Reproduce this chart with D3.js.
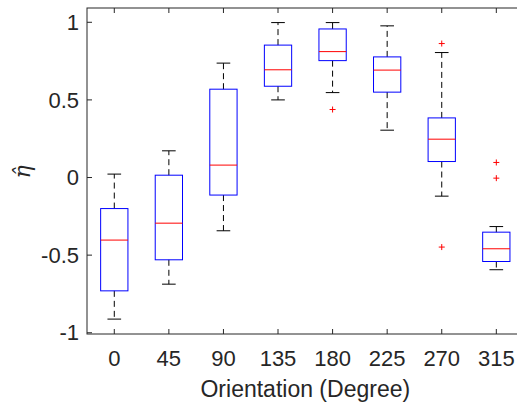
<!DOCTYPE html>
<html><head><meta charset="utf-8">
<script src="https://cdn.jsdelivr.net/npm/d3@7"></script>
<style>body{margin:0;background:#fff}svg{display:block}text{font-family:"Liberation Sans",Arial,sans-serif;fill:#262626}</style>
</head><body><svg id="c" width="517" height="404"></svg>
<script>
const categories = ["0","45","90","135","180","225","270","315"];
const whiskerHigh = [0.022, 0.172, 0.737, 0.998, 0.998, 0.977, 0.805, -0.316];
const q3          = [-0.200, 0.015, 0.569, 0.853, 0.957, 0.777, 0.384, -0.352];
const medians     = [-0.403, -0.294, 0.080, 0.694, 0.811, 0.692, 0.247, -0.459];
const q1          = [-0.730, -0.530, -0.113, 0.588, 0.753, 0.550, 0.103, -0.541];
const whiskerLow  = [-0.912, -0.687, -0.343, 0.500, 0.547, 0.305, -0.120, -0.594];
const outliers    = [[], [], [], [], [0.438], [], [0.863, -0.448], [0.097, -0.004]];
const yTicks = [-1, -0.5, 0, 0.5, 1];
const yTickLabels = ["-1", "-0.5", "0", "0.5", "1"];

const svg = d3.select("#c");
const L = 87, R = 523.6, T = 8, B = 334;
const x = d3.scaleLinear().domain([0.5, categories.length + 0.5]).range([L, R]);
const y = d3.scaleLinear().domain([-1.008, 1.092]).range([B, T]);
const hw = (x(1.25) - x(1));     // box half width
const cw = (x(1.125) - x(1));    // cap half width

const g = svg.append("g");
categories.forEach((c, i) => {
  const cx = x(i + 1);
  // whiskers
  g.append("line").attr("x1", cx).attr("x2", cx).attr("y1", y(q3[i])).attr("y2", y(whiskerHigh[i]))
    .attr("stroke", "#000").attr("stroke-width", 1).attr("stroke-dasharray", "6,4");
  g.append("line").attr("x1", cx).attr("x2", cx).attr("y1", y(q1[i])).attr("y2", y(whiskerLow[i]))
    .attr("stroke", "#000").attr("stroke-width", 1).attr("stroke-dasharray", "6,4");
  [whiskerHigh[i], whiskerLow[i]].forEach(v => {
    g.append("line").attr("x1", cx - cw).attr("x2", cx + cw).attr("y1", y(v)).attr("y2", y(v))
      .attr("stroke", "#000").attr("stroke-width", 1);
  });
  // box
  g.append("rect").attr("x", cx - hw).attr("width", 2 * hw)
    .attr("y", y(q3[i])).attr("height", y(q1[i]) - y(q3[i]))
    .attr("fill", "none").attr("stroke", "#0000ff").attr("stroke-width", 1);
  // median
  g.append("line").attr("x1", cx - hw).attr("x2", cx + hw).attr("y1", y(medians[i])).attr("y2", y(medians[i]))
    .attr("stroke", "#ff0000").attr("stroke-width", 1);
  // outliers
  outliers[i].forEach(v => {
    const py = y(v), s = 3;
    g.append("path").attr("d", `M${cx - s},${py}H${cx + s}M${cx},${py - s}V${py + s}`)
      .attr("stroke", "#ff0000").attr("stroke-width", 1).attr("fill", "none");
  });
});

// axes frame
const ax = svg.append("g").attr("stroke", "#262626").attr("stroke-width", 1).attr("fill", "none");
ax.append("rect").attr("x", L).attr("y", T).attr("width", R - L).attr("height", B - T);
const tl = 5;
categories.forEach((c, i) => {
  const cx = x(i + 1);
  ax.append("line").attr("x1", cx).attr("x2", cx).attr("y1", B).attr("y2", B - tl);
  ax.append("line").attr("x1", cx).attr("x2", cx).attr("y1", T).attr("y2", T + tl);
  svg.append("text").attr("x", cx).attr("y", 366).attr("text-anchor", "middle")
    .style("font-size", "22px").text(c);
});
yTicks.forEach((v, i) => {
  ax.append("line").attr("x1", L).attr("x2", L + tl).attr("y1", y(v)).attr("y2", y(v));
  svg.append("text").attr("x", 79).attr("y", y(v)).attr("dy", "0.35em").attr("text-anchor", "end")
    .style("font-size", "22px").text(yTickLabels[i]);
});
svg.append("text").attr("x", (L + R) / 2).attr("y", 397).attr("text-anchor", "middle")
  .style("font-size", "23px").text("Orientation (Degree)");
svg.append("text").attr("transform", "translate(30,172) rotate(-90)").attr("text-anchor", "middle")
  .style("font-family", "'DejaVu Serif',serif").style("font-style", "italic").style("font-size", "22px")
  .text("\u03B7\u0302");
</script></body></html>
